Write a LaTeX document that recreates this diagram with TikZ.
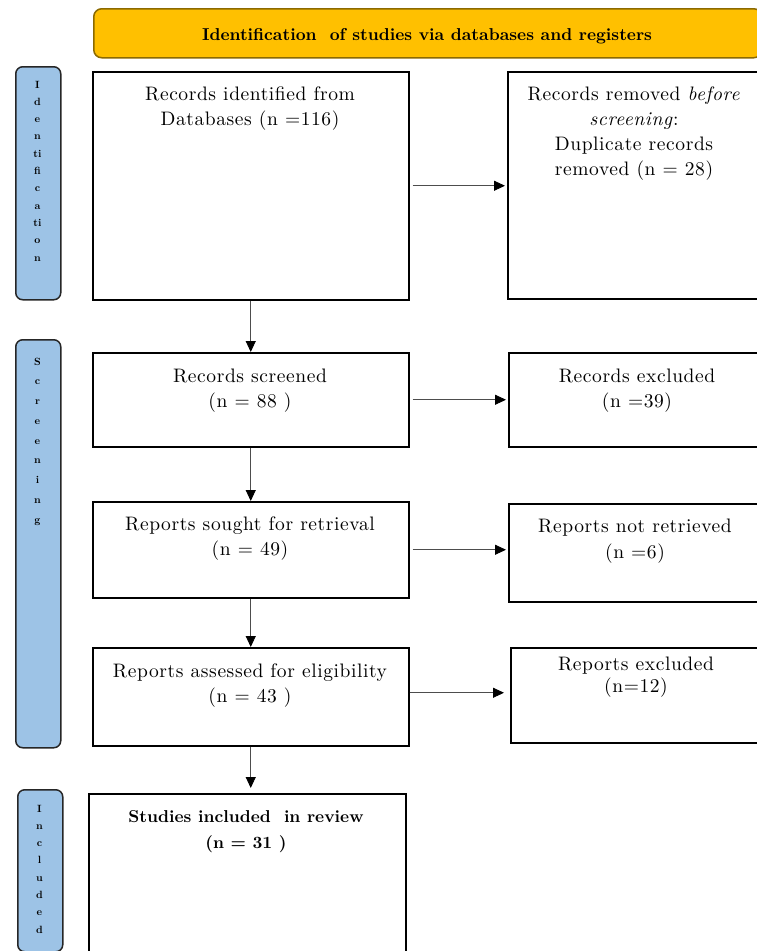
\documentclass[tikz,border=0pt]{standalone}
\usepackage{fontspec}
\setmainfont{lmroman10}[Extension=.otf, UprightFont=*-regular, BoldFont=*-bold, ItalicFont=*-italic, BoldItalicFont=*-bolditalic]
\newfontfamily\spacedfont{lmroman10}[Extension=.otf, UprightFont=*-regular, BoldFont=*-bold, ItalicFont=*-italic, BoldItalicFont=*-bolditalic, LetterSpace=3]
\usetikzlibrary{arrows.meta}
\definecolor{hdrfill}{HTML}{FFC000}
\definecolor{hdrdraw}{HTML}{8C6A00}
\definecolor{sidefill}{HTML}{9DC3E6}
\definecolor{arrgray}{HTML}{4D4D4D}
\begin{document}
\begin{tikzpicture}[x=1pt,y=-1pt,
  box/.style={draw=black, line width=1.5pt, anchor=north west, inner sep=0pt, fill=white},
  side/.style={draw=black!85, fill=sidefill, line width=1.5pt, rounded corners=7pt, anchor=north west, inner sep=0pt},
  hdr/.style={draw=hdrdraw, fill=hdrfill, line width=1.5pt, rounded corners=8pt, anchor=north west, inner sep=0pt},
  txt/.style={anchor=base, font=\spacedfont\fontsize{19.5}{25}\selectfont, inner sep=0pt},
  btxt/.style={anchor=base, font=\fontsize{17.2}{25}\selectfont\bfseries, inner sep=0pt},
  stxt/.style={anchor=base, font=\fontsize{10.5}{12}\selectfont\bfseries, inner sep=0pt},
  arr/.style={draw=arrgray, line width=0.9pt, -{Triangle[length=11pt,width=10pt,color=black]}}
]
\useasboundingbox (0,0) rectangle (756,951);

% header
\node[hdr, minimum width=668pt, minimum height=49pt] (hdr) at (93,8) {};
\node[anchor=base, font=\fontsize{17.2}{20}\selectfont\bfseries, inner sep=0pt] (hdrt) at (427,40) {Identification\ \ of studies via databases and registers};

% side bars
\node[side, minimum width=45pt, minimum height=233pt] (sid) at (15,66) {};
\node[side, minimum width=45pt, minimum height=408pt] (sscr) at (15,339) {};
\node[side, minimum width=45pt, minimum height=162pt] (sinc) at (17,789) {};
\foreach \l [count=\k] in {I,d,e,n,ti,fi,c,a,ti,o,n}
  \node[stxt] (lid\k) at (37.5,{88+17.3*(\k-1)}) {\l};
\foreach \l [count=\k] in {S,c,r,e,e,n,i,n,g}
  \node[stxt] (lsc\k) at (37.5,{365+19.75*(\k-1)}) {\l};
\foreach \l [count=\k] in {I,n,c,l,u,d,e,d}
  \node[stxt] (lin\k) at (39.5,{812+17.3*(\k-1)}) {\l};

% boxes
\node[box, minimum width=316pt, minimum height=228pt] (b1) at (92,71) {};
\node[box, minimum width=260pt, minimum height=227pt] (b2) at (507,71) {};
\node[box, minimum width=316pt, minimum height=94pt] (scr) at (92,352) {};
\node[box, minimum width=260pt, minimum height=94pt] (rex) at (508,352) {};
\node[box, minimum width=316pt, minimum height=96pt] (sou) at (92,501) {};
\node[box, minimum width=260pt, minimum height=98pt] (nre) at (508,503) {};
\node[box, minimum width=316pt, minimum height=98pt] (ass) at (92,647) {};
\node[box, minimum width=260pt, minimum height=95pt] (pex) at (510,647) {};
\node[box, minimum width=317pt, minimum height=170pt] (inc) at (88,793) {};

% texts
\node[txt] (t1a) at (250,100) {Records identified from};
\node[txt] (t1b) at (250,125) {Databases (n =116)};
\node[txt] (t2a) at (634,100) {Records removed \textit{before}};
\node[txt] (t2b) at (634,125) {\textit{screening}:};
\node[txt] (t2c) at (634,150) {Duplicate records};
\node[txt] (t2d) at (634,175) {removed (n = 28)};
\node[txt] (t3a) at (250,382) {Records screened};
\node[txt] (t3b) at (250,407) {(n = 88 )};
\node[txt] (t4a) at (637,382) {Records excluded};
\node[txt] (t4b) at (637,407) {(n =39)};
\node[txt] (t5a) at (250,530) {Reports sought for retrieval};
\node[txt] (t5b) at (250,555) {(n = 49)};
\node[txt] (t6a) at (635,532) {Reports not retrieved};
\node[txt] (t6b) at (635,558) {(n =6)};
\node[txt] (t7a) at (250,677) {Reports assessed for eligibility};
\node[txt] (t7b) at (250,702) {(n = 43 )};
\node[txt] (t8a) at (636,670) {Reports excluded};
\node[txt] (t8b) at (636,692) {(n=12)};
\node[btxt] (t9a) at (246,822) {Studies included\ \ in review};
\node[btxt] (t9b) at (246,848) {(n = 31 )};

% connectors
\draw[arr] ([xshift=3pt]b1.east) -- ([xshift=-2pt]b1.east -| b2.west);
\draw[arr] ([xshift=3pt]scr.east) -- ([xshift=-2pt]scr.east -| rex.west);
\draw[arr] ([xshift=3pt]sou.east) -- ([xshift=-2pt]sou.east -| nre.west);
\draw[arr] ([yshift=4pt]ass.east) -- ([xshift=-6pt,yshift=4pt]ass.east -| pex.west);
\draw[arr] (b1.south) -- (scr.north);
\draw[arr] (scr.south) -- (sou.north);
\draw[arr] (sou.south) -- (ass.north);
\draw[arr, shorten >=5pt] (ass.south) -- (ass.south |- inc.north);
\end{tikzpicture}
\end{document}
